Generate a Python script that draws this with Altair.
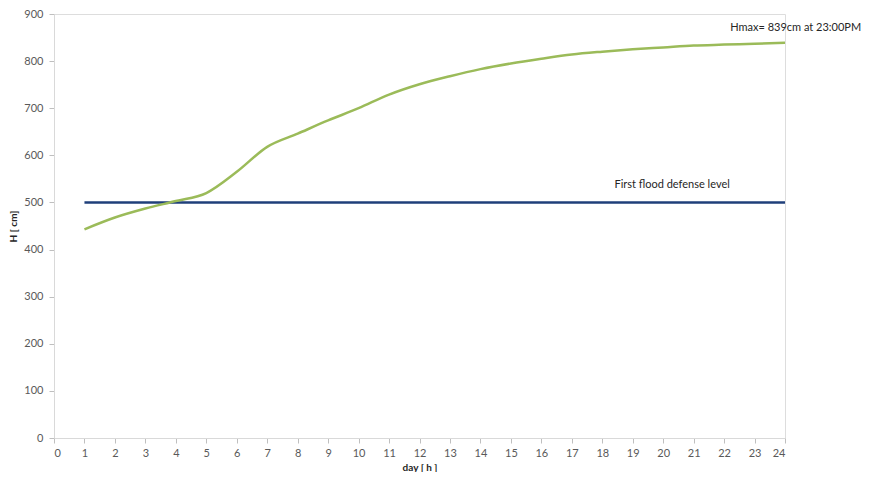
import altair as alt
import pandas as pd

hours = list(range(1, 25))
water_level = [443, 468, 487, 503, 520, 565, 618, 646, 674, 700, 729, 751,
               768, 783, 795, 805, 814, 820, 825, 829, 833, 835, 837, 839]
defense_level = [500] * 24

df = pd.DataFrame({"hour": hours, "H": water_level, "defense": defense_level})

FONT = "Lato"
x_scale = alt.Scale(domain=[0, 24], nice=False)
y_scale = alt.Scale(domain=[0, 900], nice=False)

x_axis = alt.Axis(values=list(range(0, 25)), title="day [ h ]", grid=False,
                  labelFontSize=11, labelColor="#595959", titleFontSize=10,
                  titleFontWeight="bold", titleColor="#262626", domainColor="#d9d9d9",
                  tickColor="#bfbfbf", tickSize=5, labelPadding=4, titlePadding=4,
                  labelOverlap=False, labelFont=FONT, titleFont=FONT)
y_axis = alt.Axis(values=list(range(0, 901, 100)), title="H [ cm]", grid=False,
                  labelFontSize=11, labelColor="#595959", titleFontSize=10,
                  titleFontWeight="bold", titleColor="#262626", domainColor="#d9d9d9",
                  tickColor="#bfbfbf", tickSize=5, labelPadding=6, titlePadding=5,
                  labelOverlap=False, labelFont=FONT, titleFont=FONT)

base = alt.Chart(df)

defense_line = base.mark_line(color="#1F3F7A", strokeWidth=2.5).encode(
    x=alt.X("hour:Q", scale=x_scale, axis=x_axis),
    y=alt.Y("defense:Q", scale=y_scale, axis=y_axis),
)

level_line = base.mark_line(color="#9BBB59", strokeWidth=2.5, interpolate="monotone").encode(
    x=alt.X("hour:Q", scale=x_scale, axis=x_axis),
    y=alt.Y("H:Q", scale=y_scale, axis=y_axis),
)

ann = pd.DataFrame({
    "x": [22.2, 18.4],
    "y": [870, 538],
    "label": ["Hmax= 839cm at 23:00PM", "First flood defense level"],
})
texts = alt.Chart(ann).mark_text(align="left", baseline="middle", fontSize=11,
                                 font=FONT, color="#262626").encode(
    x=alt.X("x:Q", scale=x_scale, axis=x_axis),
    y=alt.Y("y:Q", scale=y_scale, axis=y_axis),
    text="label:N",
)

chart = (defense_line + level_line + texts).properties(
    width=731, height=424, padding={"left": 0, "top": 0, "right": 0, "bottom": 0}
).configure_view(stroke=None).configure(background="white").configure_axis(
    labelOverlap=False
)

chart.save("out.html", embed_options={"renderer": "svg", "actions": False})
